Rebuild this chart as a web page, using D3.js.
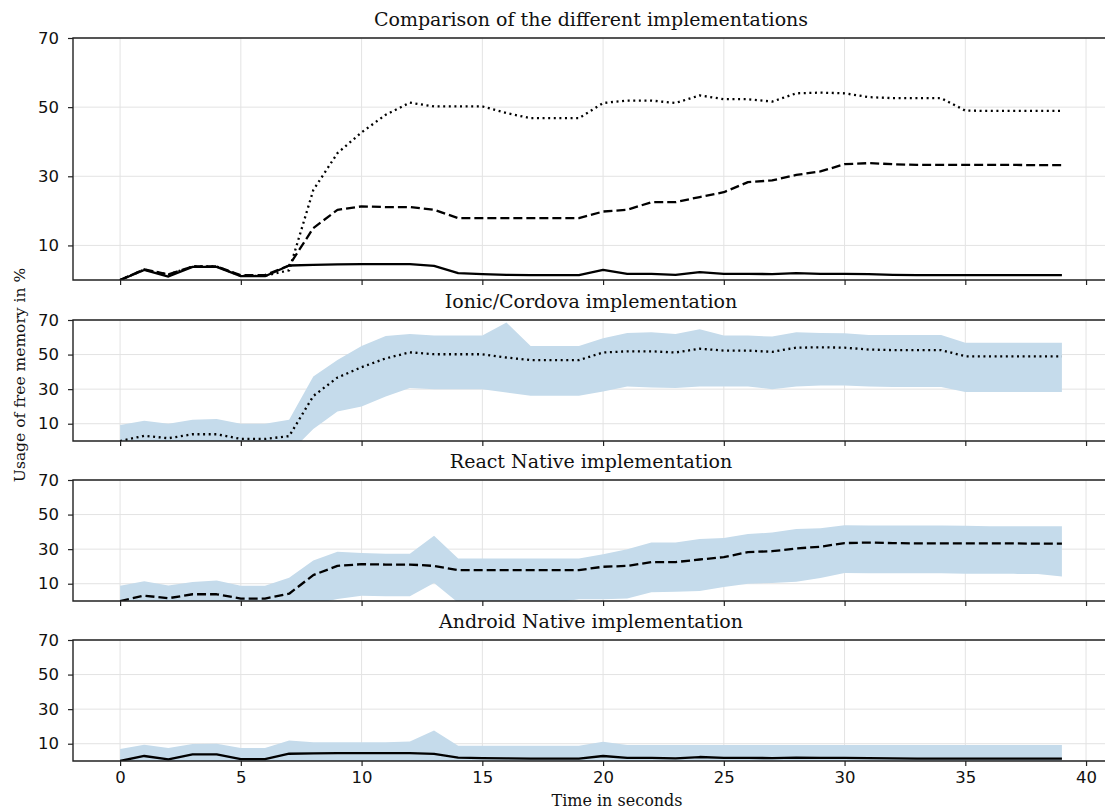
<!DOCTYPE html>
<html>
<head>
<meta charset="utf-8">
<script src="https://cdn.jsdelivr.net/npm/d3@7"></script>
<style>
  body { margin: 0; background: #fff; }
  svg { display: block; }
</style>
</head>
<body>
<svg id="drawing_region"></svg>
<script>
// time in seconds, one sample per second
const times = d3.range(0, 40);

const ionicMean = [0, 3.0, 1.6, 3.9, 3.9, 1.2, 1.2, 2.8, 26.0, 36.7, 42.7, 47.8, 51.3, 50.2, 50.2, 50.2, 48.3, 46.8, 46.8, 46.8,
    51.2, 51.9, 51.9, 51.2, 53.4, 52.3, 52.3, 51.6, 54.0, 54.2, 54.0, 52.9, 52.6, 52.6, 52.6, 49.0, 48.9, 48.9, 48.9, 48.9];
const ionicUpper = [9.2, 11.7, 10.0, 12.3, 12.7, 10.0, 10.0, 12.3, 37.3, 46.9, 55.0, 60.8, 61.9, 61.0, 61.0, 61.0, 68.5, 55.0, 55.0, 55.0,
    59.4, 62.5, 62.9, 61.9, 64.6, 61.0, 61.0, 60.4, 62.9, 62.5, 62.3, 61.3, 61.3, 61.3, 61.3, 56.9, 56.9, 56.9, 56.9, 56.9];
const ionicLower = [-9, -8, -8, -6, -6, -8, -8, -7, 6.9, 17.1, 20.0, 25.8, 30.6, 30.0, 30.0, 30.0, 28.1, 26.2, 26.2, 26.2,
    28.7, 31.5, 31.0, 30.6, 31.5, 31.5, 31.5, 30.0, 31.5, 32.1, 32.1, 31.5, 31.2, 31.2, 31.2, 28.3, 28.3, 28.3, 28.3, 28.3];

const reactMean = [0, 3.1, 1.6, 3.9, 3.9, 1.4, 1.4, 4.2, 15.0, 20.3, 21.3, 21.1, 21.1, 20.3, 17.9, 17.9, 17.9, 17.9, 17.9, 17.9,
    19.8, 20.3, 22.5, 22.5, 24.0, 25.4, 28.3, 28.8, 30.4, 31.4, 33.5, 33.8, 33.5, 33.3, 33.3, 33.3, 33.3, 33.3, 33.2, 33.2];
const reactUpper = [8.8, 11.4, 9.0, 11.0, 11.8, 8.8, 8.8, 13.5, 23.5, 28.5, 27.7, 27.3, 27.3, 37.7, 24.6, 24.6, 24.6, 24.6, 24.6, 24.6,
    27.1, 30.0, 33.8, 33.8, 35.8, 36.5, 38.8, 39.6, 41.7, 42.1, 43.8, 43.7, 43.7, 43.7, 43.7, 43.5, 43.3, 43.3, 43.3, 43.3];
const reactLower = [-9, -5, -6, -3, -4, -6, -6, -5, -2, 1.2, 3.1, 2.7, 2.7, 10.4, -1, -1, -1, -1, -1, 1.0,
    1.0, 1.5, 5.0, 5.4, 5.8, 8.1, 10.0, 10.4, 11.2, 13.3, 16.2, 16.0, 16.0, 16.0, 16.0, 15.8, 15.8, 15.7, 15.6, 14.2];

const androidMean = [0, 2.9, 1.0, 3.8, 3.8, 1.1, 1.1, 4.2, 4.4, 4.5, 4.6, 4.6, 4.6, 4.1, 2.0, 1.7, 1.5, 1.4, 1.4, 1.4,
    2.9, 1.8, 1.8, 1.5, 2.3, 1.8, 1.8, 1.7, 2.0, 1.8, 1.8, 1.7, 1.5, 1.4, 1.4, 1.4, 1.4, 1.4, 1.4, 1.4];
const androidUpper = [6.9, 9.4, 7.5, 9.8, 10.0, 7.5, 7.5, 11.8, 10.8, 10.8, 10.8, 10.8, 11.3, 17.7, 8.8, 8.8, 8.8, 8.8, 8.8, 8.8,
    11.2, 9.2, 9.2, 9.2, 9.2, 9.2, 9.2, 9.2, 9.2, 9.2, 9.2, 9.2, 9.2, 9.2, 9.2, 9.2, 9.2, 9.2, 9.2, 9.2];
const androidLower = [-7, -4, -6, -2, -2, -5, -5, -3, -2, -2, -2, -2, -2, -9, -5, -5, -5, -5, -5, -5,
    -5, -5, -5, -5, -5, -5, -5, -5, -5, -5, -5, -5, -5, -5, -5, -5, -5, -5, -5, -5];

const xTicks = [0, 5, 10, 15, 20, 25, 30, 35, 40];
const yTicks = [10, 30, 50, 70];

const titles = ['Comparison of the different implementations', 'Ionic/Cordova implementation',
    'React Native implementation', 'Android Native implementation'];

const W = 1105, H = 809;
const svg = d3.select('#drawing_region').attr('width', W).attr('height', H);

const xscale = d3.scaleLinear().domain([-1.95, 40.95]).range([73, 1109]);

// vertical extent of each subplot
const panels = [
    {top: 38, bottom: 280},
    {top: 320, bottom: 441},
    {top: 480, bottom: 601},
    {top: 640, bottom: 761}
];

const styles = {
    dotted: '2,3.6',
    dashed: '9,4',
    solid: null
};

const series = [
    {mean: ionicMean, upper: ionicUpper, lower: ionicLower, dash: styles.dotted},
    {mean: reactMean, upper: reactUpper, lower: reactLower, dash: styles.dashed},
    {mean: androidMean, upper: androidUpper, lower: androidLower, dash: styles.solid}
];

const serif = 'DejaVu Serif, serif';
const sans = 'DejaVu Sans, sans-serif';

function drawPanel(i, p, items, showBand, showLabels) {
    const yscale = d3.scaleLinear().domain([0, 70]).range([p.bottom, p.top]);
    const g = svg.append('g');

    g.append('clipPath').attr('id', 'clip' + i)
        .append('rect')
        .attr('x', xscale.range()[0]).attr('y', p.top)
        .attr('width', xscale.range()[1] - xscale.range()[0])
        .attr('height', p.bottom - p.top);

    // grid
    g.append('g').selectAll('line').data(xTicks).join('line')
        .attr('x1', d => xscale(d)).attr('x2', d => xscale(d))
        .attr('y1', p.top).attr('y2', p.bottom)
        .attr('stroke', '#e3e3e3').attr('stroke-width', 1);
    g.append('g').selectAll('line').data(yTicks).join('line')
        .attr('x1', xscale.range()[0]).attr('x2', xscale.range()[1])
        .attr('y1', d => yscale(d)).attr('y2', d => yscale(d))
        .attr('stroke', '#e3e3e3').attr('stroke-width', 1);

    const plot = g.append('g').attr('clip-path', `url(#clip${i})`);

    items.forEach(s => {
        if (showBand) {
            const area = d3.area()
                .x((d, k) => xscale(times[k]))
                .y0((d, k) => yscale(s.lower[k]))
                .y1((d, k) => yscale(s.upper[k]));
            plot.append('path')
                .attr('d', area(s.mean))
                .attr('fill', '#c5dbeb');
        }
        const line = d3.line()
            .x((d, k) => xscale(times[k]))
            .y(d => yscale(d));
        plot.append('path')
            .attr('d', line(s.mean))
            .attr('fill', 'none')
            .attr('stroke', '#000')
            .attr('stroke-width', 2.3)
            .attr('stroke-dasharray', s.dash)
            .attr('stroke-linejoin', 'round');
    });

    // axes
    const xaxis = d3.axisBottom(xscale).tickValues(xTicks).tickSize(5).tickSizeOuter(0)
        .tickFormat(showLabels ? d3.format('d') : '');
    const xg = g.append('g')
        .attr('transform', `translate(0, ${p.bottom})`)
        .call(xaxis);
    xg.select('.domain').remove();
    xg.selectAll('.tick line').attr('stroke', '#222').attr('stroke-width', 1.2);
    xg.selectAll('.tick text').attr('font-family', sans).attr('font-size', 16.5).attr('fill', '#111').attr('dy', '0.85em');

    const yaxis = d3.axisLeft(yscale).tickValues(yTicks).tickSize(5).tickSizeOuter(0)
        .tickFormat(d3.format('d'));
    const yg = g.append('g')
        .attr('transform', `translate(${xscale.range()[0]}, 0)`)
        .call(yaxis);
    yg.select('.domain').remove();
    yg.selectAll('.tick line').attr('stroke', '#222').attr('stroke-width', 1.2);
    yg.selectAll('.tick text').attr('font-family', sans).attr('font-size', 16.5).attr('fill', '#111').attr('x', -14);

    // spines
    const x0 = xscale.range()[0], x1 = xscale.range()[1];
    g.append('path')
        .attr('d', `M${x1},${p.top}H${x0}V${p.bottom}H${x1}`)
        .attr('fill', 'none').attr('stroke', '#222').attr('stroke-width', 1.4);

    g.append('text')
        .attr('x', (x0 + x1) / 2).attr('y', p.top - 12)
        .attr('text-anchor', 'middle')
        .attr('font-family', serif).attr('font-size', 19).attr('fill', '#111')
        .text(titles[i]);
}

drawPanel(0, panels[0], series, false, false);
drawPanel(1, panels[1], [series[0]], true, false);
drawPanel(2, panels[2], [series[1]], true, false);
drawPanel(3, panels[3], [series[2]], true, true);

svg.append('text')
    .attr('transform', 'translate(25, 375) rotate(-90)')
    .attr('text-anchor', 'middle')
    .attr('font-family', serif).attr('font-size', 15.5).attr('fill', '#111')
    .text('Usage of free memory in %');

svg.append('text')
    .attr('x', 617).attr('y', 806)
    .attr('text-anchor', 'middle')
    .attr('font-family', serif).attr('font-size', 16).attr('fill', '#111')
    .text('Time in seconds');
</script>
</body>
</html>
